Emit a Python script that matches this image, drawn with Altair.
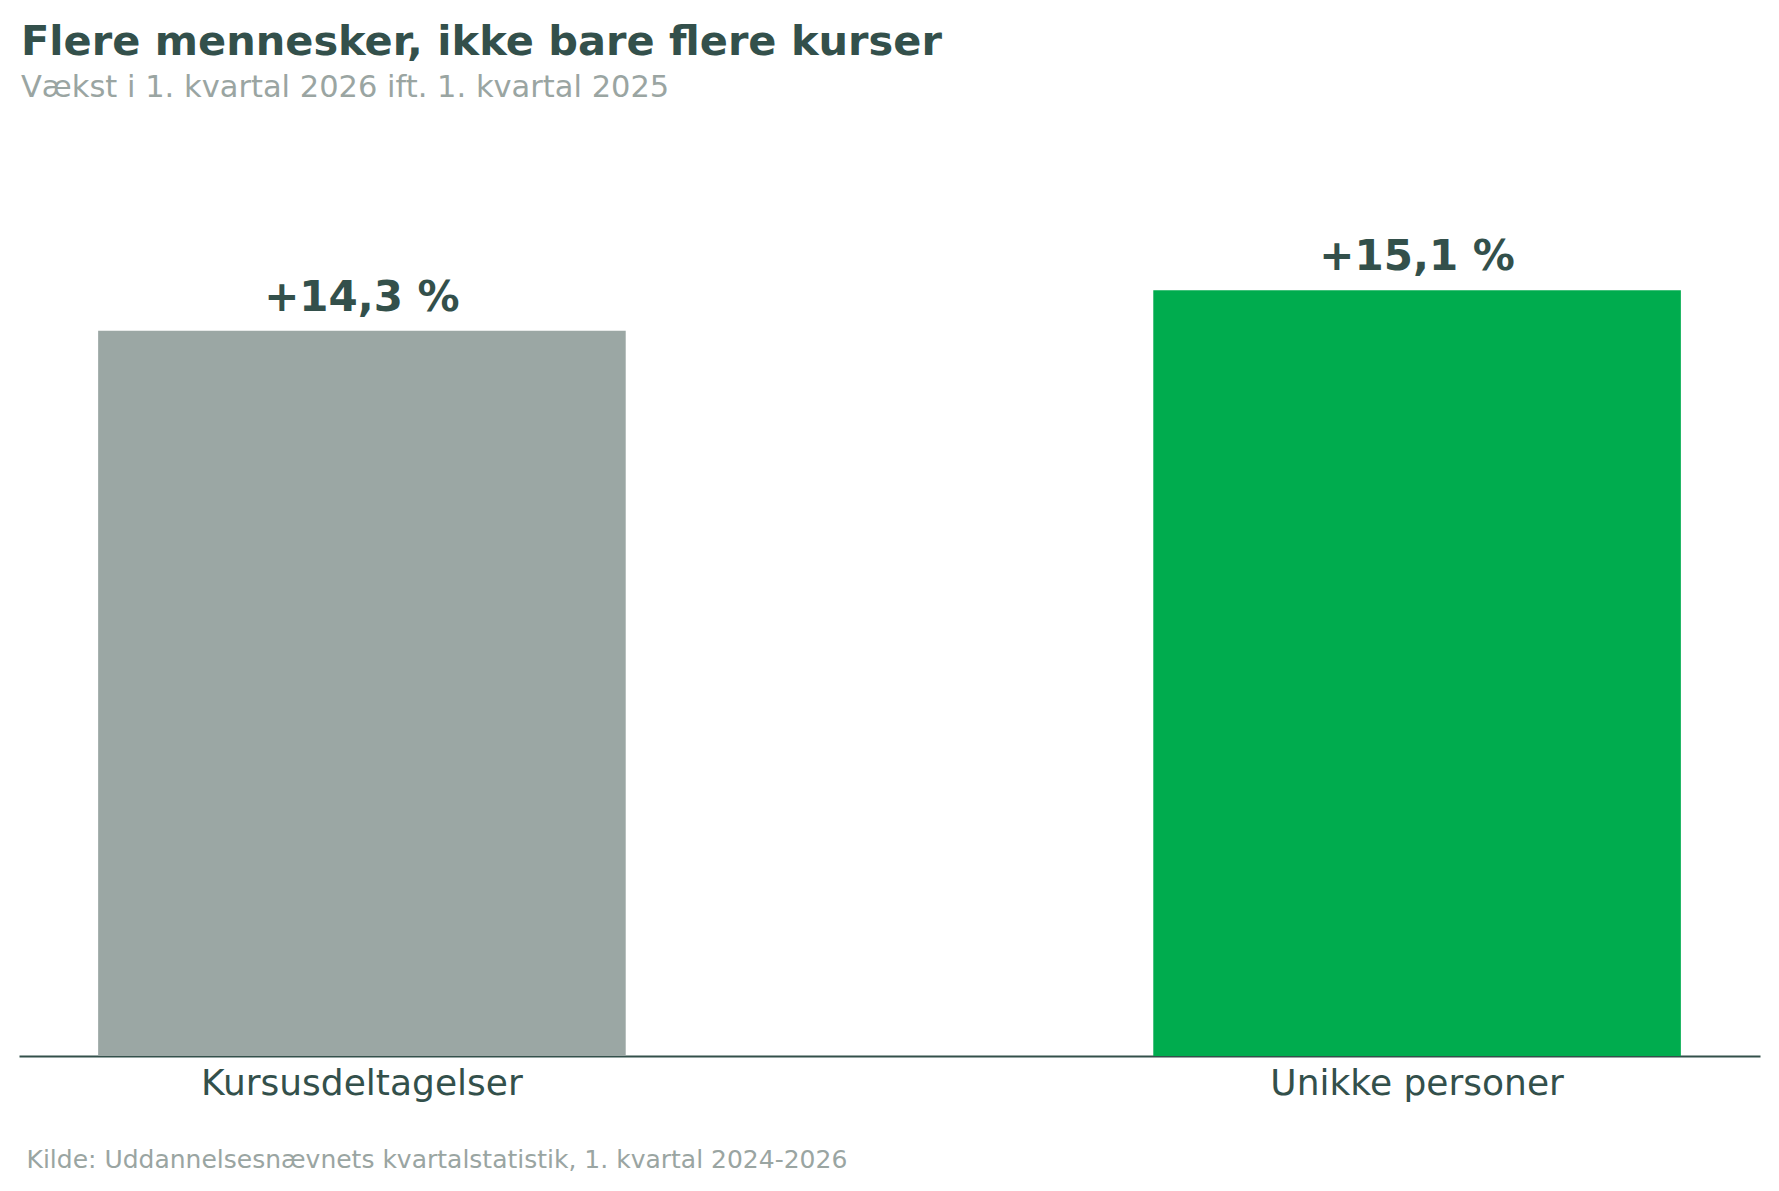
import altair as alt
import pandas as pd

categories = ["Kursusdeltagelser", "Unikke personer"]
growth = [14.3, 15.1]
bar_colors = ["#9BA7A4", "#00AC4E"]

labels = ["+" + f"{v:.1f}".replace(".", ",") + " %" for v in growth]
df = pd.DataFrame({"kategori": categories, "vaekst": growth, "label": labels})

DARK = "#33504B"
GREY = "#9AA5A2"
FONT = "DejaVu Sans"

x = alt.X(
    "kategori:N",
    sort=categories,
    scale=alt.Scale(paddingInner=0.5, paddingOuter=0.075),
    axis=alt.Axis(
        title="Kilde: Uddannelsesnævnets kvartalstatistik, 1. kvartal 2024-2026",
        titleFont=FONT,
        titleFontSize=25,
        titleFontWeight="normal",
        titleColor=GREY,
        titleAnchor="start",
        titleAlign="left",
        titleBaseline="alphabetic",
        titleX=7,
        titleY=111,
        labelAngle=0,
        labelFont=FONT,
        labelFontSize=36,
        labelColor=DARK,
        labelBaseline="alphabetic",
        labelPadding=38,
        labelLimit=0,
        ticks=False,
        domainColor=DARK,
        domainWidth=2,
        grid=False,
    ),
)
y = alt.Y("vaekst:Q", scale=alt.Scale(domain=[0, 17.45], nice=False), axis=None)

bars = alt.Chart(df).mark_bar().encode(
    x=x,
    y=y,
    color=alt.Color("kategori:N", scale=alt.Scale(domain=categories, range=bar_colors), legend=None),
)
text = alt.Chart(df).mark_text(
    font=FONT, fontSize=42, fontWeight="bold", color=DARK, baseline="alphabetic", dy=-20
).encode(x=alt.X("kategori:N", sort=categories), y="vaekst:Q", text="label:N")

chart = (
    alt.layer(bars, text)
    .properties(
        width=1741,
        height=885,
        padding={"left": 11, "right": 3, "top": 14, "bottom": 5},
        title=alt.TitleParams(
            text="Flere mennesker, ikke bare flere kurser",
            subtitle="Vækst i 1. kvartal 2026 ift. 1. kvartal 2025",
            anchor="start",
            font=FONT,
            fontSize=41.5,
            fontWeight="bold",
            color=DARK,
            subtitleFont=FONT,
            subtitleFontSize=30.5,
            subtitleColor=GREY,
            subtitlePadding=9,
            offset=68,
            dx=2,
        ),
    )
    .configure(background="white")
    .configure_view(stroke=None, strokeWidth=0)
)

chart.save("out.html", embed_options={"renderer": "svg", "actions": False})
